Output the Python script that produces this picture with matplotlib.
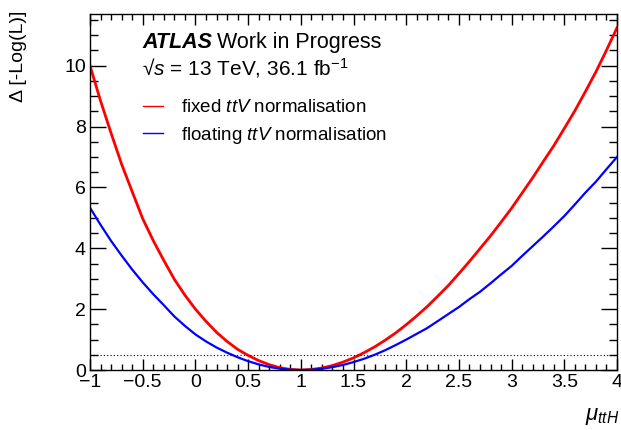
import numpy as np
import matplotlib
matplotlib.use('Agg')
import matplotlib.pyplot as plt
from matplotlib.ticker import MultipleLocator

plt.rcParams['font.family'] = ['Liberation Sans', 'DejaVu Sans']
plt.rcParams['mathtext.fontset'] = 'custom'
plt.rcParams['mathtext.rm'] = 'Liberation Sans'
plt.rcParams['mathtext.it'] = 'Liberation Sans:italic'
plt.rcParams['mathtext.bf'] = 'Liberation Sans:bold'

# scan points of mu_ttH
mu = [-1.0, -0.9, -0.8, -0.7, -0.6, -0.5, -0.4, -0.3, -0.2, -0.1,
      0.0, 0.1, 0.2, 0.3, 0.4, 0.5, 0.6, 0.7, 0.8, 0.9,
      1.0, 1.1, 1.2, 1.3, 1.4, 1.5, 1.6, 1.7, 1.8, 1.9,
      2.0, 2.1, 2.2, 2.3, 2.4, 2.5, 2.6, 2.7, 2.8, 2.9,
      3.0, 3.1, 3.2, 3.3, 3.4, 3.5, 3.6, 3.7, 3.8, 3.9, 4.0]

# fixed ttV normalisation
nll_fixed = [10.0, 8.84, 7.78, 6.76, 5.86, 4.97, 4.25, 3.60, 2.98, 2.46,
             2.00, 1.60, 1.24, 0.94, 0.68, 0.48, 0.31, 0.175, 0.077, 0.019,
             0.0, 0.017, 0.066, 0.147, 0.26, 0.40, 0.57, 0.76, 0.98, 1.22,
             1.49, 1.78, 2.09, 2.43, 2.78, 3.17, 3.57, 3.99, 4.41, 4.86,
             5.32, 5.82, 6.32, 6.85, 7.37, 7.94, 8.52, 9.15, 9.80, 10.51, 11.25]

# floating ttV normalisation
nll_float = [5.33, 4.77, 4.24, 3.76, 3.30, 2.88, 2.49, 2.13, 1.76, 1.45,
             1.17, 0.94, 0.74, 0.57, 0.42, 0.29, 0.185, 0.10, 0.045, 0.01,
             0.0, 0.01, 0.042, 0.094, 0.166, 0.26, 0.37, 0.50, 0.65, 0.82,
             1.00, 1.19, 1.38, 1.61, 1.84, 2.07, 2.33, 2.57, 2.85, 3.14,
             3.42, 3.75, 4.07, 4.39, 4.72, 5.06, 5.44, 5.83, 6.19, 6.60, 7.00]

xtick_vals = [-1, -0.5, 0, 0.5, 1, 1.5, 2, 2.5, 3, 3.5, 4]
xtick_text = ['\u22121', '\u22120.5', '0', '0.5', '1', '1.5', '2', '2.5', '3', '3.5', '4']

fig = plt.figure(figsize=(6.21, 4.30), dpi=100)
ax = fig.add_axes([0.145, 0.1395, 0.8486, 0.828])

ax.plot(mu, nll_fixed, color='#ff0000', lw=2.0, label=r'fixed $ttV$ normalisation')
ax.plot(mu, nll_float, color='#0000ff', lw=1.6, label=r'floating $ttV$ normalisation')
ax.axhline(0.5, color='black', lw=0.8, ls=(0, (1, 2)))

ax.set_xlim(-1, 4)
ax.set_ylim(0, 11.7)

ax.xaxis.set_major_locator(MultipleLocator(0.5))
ax.xaxis.set_minor_locator(MultipleLocator(0.1))
ax.yaxis.set_major_locator(MultipleLocator(2))
ax.yaxis.set_minor_locator(MultipleLocator(0.5))
ax.tick_params(which='both', direction='in', top=True, right=True, width=1.0, labelsize=14)
ax.tick_params(axis='x', which='major', length=8, pad=3)
ax.tick_params(axis='x', which='minor', length=4)
ax.tick_params(axis='y', which='major', length=11.5, pad=3)
ax.tick_params(axis='y', which='minor', length=5.7)
for s in ax.spines.values():
    s.set_linewidth(1.0)

ax.set_xticks(xtick_vals)
ax.set_xticklabels(xtick_text)

fig.text(0.998, 0.008, r'$\mu_{ttH}$', ha='right', va='bottom', fontsize=16)
fig.text(0.03, 0.975, '\u0394 [-Log(L)]', rotation=90, ha='center', va='top', fontsize=14)

fig.text(0.229, 0.888, 'ATLAS', fontsize=15.5, fontweight='bold', fontstyle='italic', ha='left', va='baseline')
fig.text(0.349, 0.888, 'Work in Progress', fontsize=15.5, ha='left', va='baseline')
fig.text(0.229, 0.826, '\u221A$s$ = 13 TeV, 36.1 fb$^{-1}$', fontsize=15, ha='left', va='baseline')

leg = ax.legend(loc='upper left', bbox_to_anchor=(0.087, 0.782), frameon=False, fontsize=13.5,
                handlelength=1.05, handletextpad=0.95, labelspacing=0.45, borderaxespad=0)
for ln in leg.get_lines():
    ln.set_linewidth(1.0)

fig.savefig('out.png', dpi=100)
